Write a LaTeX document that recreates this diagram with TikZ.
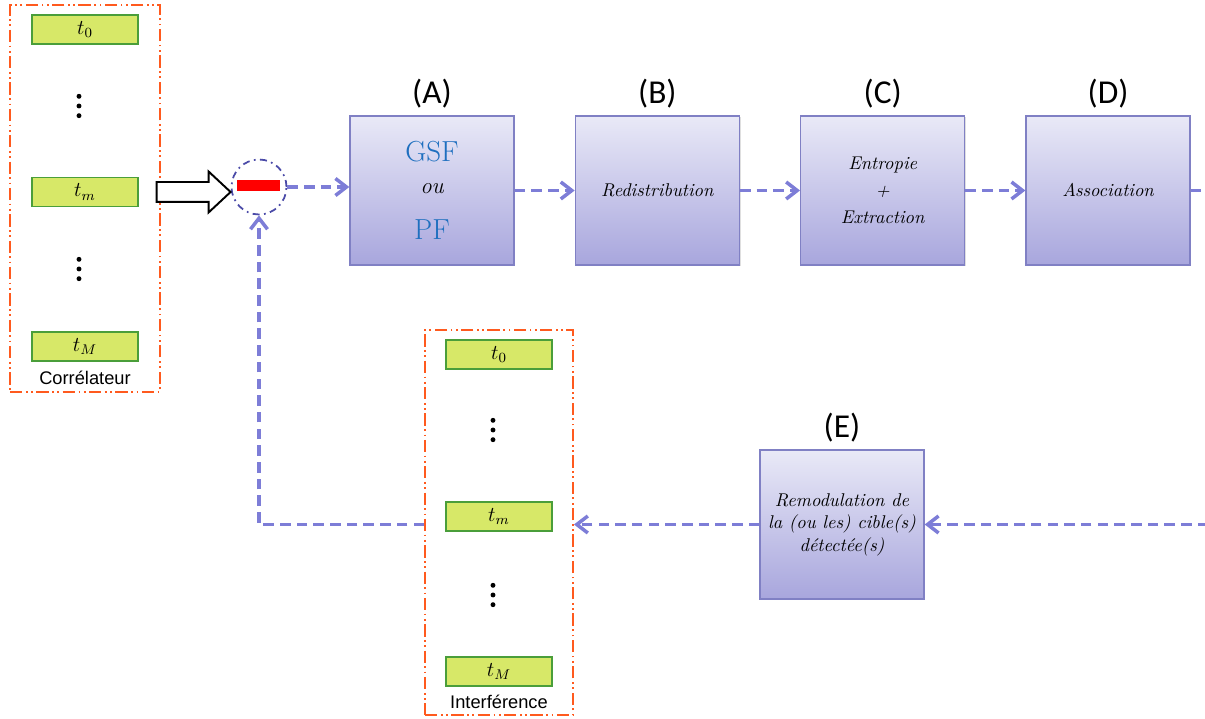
\documentclass[tikz,border=0pt]{standalone}
\usepackage{fontspec}
\usepackage{xcolor}
\usepackage{tikz}
\usetikzlibrary{arrows.meta,positioning,shapes.arrows,shadows}

\newfontfamily\calib{Carlito}
\newfontfamily\arialf{Liberation Sans}

\definecolor{orangec}{RGB}{255,90,30}
\definecolor{bleufl}{RGB}{125,125,215}
\definecolor{bordbloc}{RGB}{128,128,196}
\definecolor{hautbloc}{RGB}{233,233,247}
\definecolor{basbloc}{RGB}{168,166,221}
\definecolor{vertfond}{RGB}{215,232,104}
\definecolor{vertbord}{RGB}{74,158,58}
\definecolor{bleutxt}{RGB}{30,111,191}
\definecolor{cercle}{RGB}{75,75,168}

\begin{document}
\begin{tikzpicture}[
    x=0.02cm, y=-0.02cm,
    node distance=1.2cm,
    bloc/.style={draw=bordbloc, line width=0.8pt, top color=hautbloc, bottom color=basbloc, minimum width=3.28cm, minimum height=2.98cm, align=center, font=\fontsize{10.5}{12.8}\selectfont\itshape, drop shadow={opacity=0.25, shadow xshift=0.8pt, shadow yshift=-0.8pt}},
    lettre/.style={font=\calib\fontsize{19}{22}\selectfont, inner sep=1pt},
    cadre/.style={draw=orangec, line width=1.1pt, dash pattern=on 7pt off 2pt on 1pt off 2pt on 1pt off 2pt, minimum width=3cm, minimum height=7.74cm},
    retard/.style={draw=vertbord, line width=1.1pt, fill=vertfond, minimum width=2.12cm, minimum height=0.58cm, inner sep=0pt, font=\fontsize{12}{14}\selectfont},
    nomcadre/.style={font=\arialf\fontsize{10.4}{12}\selectfont, inner sep=0pt},
    fleche/.style={draw=bleufl, line width=2pt, dash pattern=on 6pt off 3.5pt, -{Straight Barb[length=2.2mm, width=3.4mm]}},
    grosfl/.style={single arrow, draw=black, line width=1.1pt, fill=white, minimum height=1.48cm, single arrow head extend=0.21cm, single arrow head indent=0pt, single arrow tip angle=86, inner xsep=0pt, inner ysep=0.18cm}
]
\useasboundingbox (0,0) rectangle (1205,719);

% correlateur
\node[cadre] (corr) at (85,198.5) {};
\node[retard] (c0) at (85,29.5) {$t_0$};
\node[retard] (cm) at (85,192) {$t_m$};
\node[retard] (cM) at (85,346.5) {$t_M$};
\node[nomcadre] (ncorr) at (85,378) {Corrélateur};
\coordinate (pc1) at (79,106);
\coordinate (pc2) at (79,269);

% interference
\node[cadre, minimum width=2.96cm, minimum height=7.7cm] (interf) at (499,522.5) {};
\node[retard] (i0) at (499,354.5) {$t_0$};
\node[retard] (im) at (499,516.5) {$t_m$};
\node[retard] (iM) at (499,671.5) {$t_M$};
\node[nomcadre] (ninterf) at (499,702) {Interférence};
\coordinate (pi1) at (493,430);
\coordinate (pi2) at (493,595);

\foreach \p in {pc1,pc2,pi1,pi2}
  \foreach \d in {-9.7,0,9.7}
    \fill (\p) ++(0,\d) circle (1.4pt);

% soustraction
\node[draw=cercle, circle, minimum size=1.1cm, inner sep=0pt, line width=1pt, dash pattern=on 4pt off 2.5pt on 1pt off 2.5pt] (circ) at (259,187) {};
\node[fill=red, minimum width=0.86cm, minimum height=0.22cm, inner sep=0pt] (moins) at (258.5,185.5) {};
\node[grosfl, anchor=tip] (gf) at (232,192) {};

% blocs
\node[bloc, font=\fontsize{16.5}{22}\selectfont] (A) at (432,190.5) {\textcolor{bleutxt}{GSF}\\[-4pt]{\fontsize{13}{16}\selectfont\itshape ou}\\[4pt]\textcolor{bleutxt}{PF}};
\node[bloc, right=of A] (B) {Redistribution};
\node[bloc, right=of B, font=\fontsize{10.5}{15.5}\selectfont\itshape] (C) {Entropie\\+\\Extraction};
\node[bloc, right=of C] (D) {Association};
\node[bloc] (E) at (842,524.5) {Remodulation de\\la (ou les) cible(s)\\détectée(s)};

\node[lettre, above=0.1cm of A] (lA) {(A)};
\node[lettre, above=0.1cm of B] (lB) {(B)};
\node[lettre, above=0.1cm of C] (lC) {(C)};
\node[lettre, above=0.1cm of D] (lD) {(D)};
\node[lettre, above=0.1cm of E] (lE) {(E)};

% liaisons
\draw[fleche] (circ.east) -- (circ.east -| A.west);
\draw[fleche] (A) -- (B);
\draw[fleche] (B) -- (C);
\draw[fleche] (C) -- (D);
\draw[fleche] (D.east) -- ++(17,0) |- (E.east);
\draw[fleche] (E.west) -- (E.west -| interf.east);
\draw[fleche] (interf.west |- E.west) -| (circ.south);
\end{tikzpicture}
\end{document}
